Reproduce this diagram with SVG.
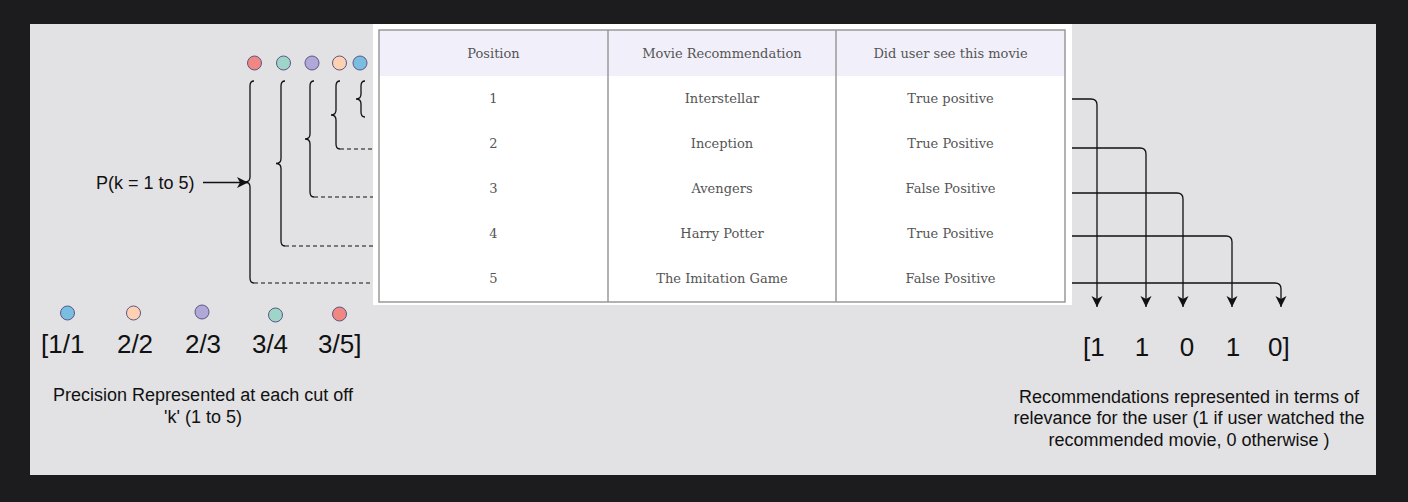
<svg xmlns="http://www.w3.org/2000/svg" width="1408" height="502" viewBox="0 0 1408 502">
<style>
.cap{font-family:"Liberation Sans",Arial,sans-serif;font-size:18px;fill:#111;}
.big{font-family:"Liberation Sans",Arial,sans-serif;font-size:26px;fill:#111;}
.tt{font-family:"DejaVu Serif","Liberation Serif",serif;font-size:13px;fill:#555;text-anchor:middle;}
.ln{fill:none;stroke:#111;stroke-width:1.3;}
.dash{fill:none;stroke:#111;stroke-width:1.2;stroke-dasharray:4 3;}
.dot{stroke:#5b5786;stroke-width:1;}
.grid{fill:none;stroke:#999;stroke-width:1.5;}
</style>
<defs>
<marker id="arr" viewBox="0 0 12 12" refX="11" refY="6" markerWidth="12" markerHeight="12" markerUnits="userSpaceOnUse" orient="auto">
<path d="M0,0.5 L11,6 L0,11.5 L3,6 z" fill="#111"/>
</marker>
</defs>
<rect x="0" y="0" width="1408" height="502" fill="#1c1c1e"/>
<rect x="30" y="24" width="1346" height="451" fill="#e2e2e4"/>

<g id="top-dots">
<circle class="dot" cx="254.5" cy="63" r="7" fill="#f08783"/>
<circle class="dot" cx="283.5" cy="63" r="7" fill="#9fd4c9"/>
<circle class="dot" cx="312" cy="63" r="7" fill="#b1a8d8"/>
<circle class="dot" cx="339.5" cy="63" r="7" fill="#fdd1b1"/>
<circle class="dot" cx="360" cy="63" r="7" fill="#79bde1"/>
</g>

<g id="braces">
<path class="ln" d="M254 81 Q250 81 250 86 V177 Q250 182 245 182 Q250 182 250 187 V278 Q250 283 254 283"/>
<path class="ln" d="M285 81 Q281 81 281 86 V158.5 Q281 163.5 276 163.5 Q281 163.5 281 168.5 V241 Q281 246 285 246"/>
<path class="ln" d="M314 81 Q310 81 310 86 V134 Q310 139 305 139 Q310 139 310 144 V192 Q310 197 314 197"/>
<path class="ln" d="M340 81 Q336 81 336 86 V110 Q336 115 331 115 Q336 115 336 120 V144 Q336 149 340 149"/>
<path class="ln" d="M365 81 Q361 81 361 86 V94 Q361 99 356 99 Q361 99 361 104 V112 Q361 117 365 117"/>
</g>

<g id="connectors">
<path class="dash" d="M254 283 H373"/>
<path class="dash" d="M285 246 H373"/>
<path class="dash" d="M314 197 H373"/>
<path class="dash" d="M340 149 H373"/>
<path class="ln" d="M203 182.5 H248" marker-end="url(#arr)"/>
<path class="ln" d="M1072 99 H1091 Q1097 99 1097 105 V307" marker-end="url(#arr)"/>
<path class="ln" d="M1072 148 H1140 Q1146 148 1146 154 V307" marker-end="url(#arr)"/>
<path class="ln" d="M1072 193 H1177 Q1183 193 1183 199 V307" marker-end="url(#arr)"/>
<path class="ln" d="M1072 236 H1226 Q1232 236 1232 242 V307" marker-end="url(#arr)"/>
<path class="ln" d="M1072 283 H1275 Q1281 283 1281 289 V307" marker-end="url(#arr)"/>
</g>

<g id="p-label">
<text class="cap" x="96" y="189">P(k = 1 to 5)</text>
</g>

<g id="table">
<rect x="373" y="24" width="699" height="281" fill="#ffffff"/>
<rect x="379" y="30" width="686" height="46" fill="#f1f0fa"/>
<rect class="grid" x="379" y="30" width="686" height="272"/>
<line class="grid" x1="608" y1="30" x2="608" y2="302"/>
<line class="grid" x1="836" y1="30" x2="836" y2="302"/>
<text class="tt" x="493.5" y="57.5">Position</text>
<text class="tt" x="722" y="57.5">Movie Recommendation</text>
<text class="tt" x="950.5" y="57.5">Did user see this movie</text>
<text class="tt" x="493.5" y="102.5">1</text>
<text class="tt" x="722" y="102.5">Interstellar</text>
<text class="tt" x="950.5" y="102.5">True positive</text>
<text class="tt" x="493.5" y="147.5">2</text>
<text class="tt" x="722" y="147.5">Inception</text>
<text class="tt" x="950.5" y="147.5">True Positive</text>
<text class="tt" x="493.5" y="192.5">3</text>
<text class="tt" x="722" y="192.5">Avengers</text>
<text class="tt" x="950.5" y="192.5">False Positive</text>
<text class="tt" x="493.5" y="237.5">4</text>
<text class="tt" x="722" y="237.5">Harry Potter</text>
<text class="tt" x="950.5" y="237.5">True Positive</text>
<text class="tt" x="493.5" y="282.5">5</text>
<text class="tt" x="722" y="282.5">The Imitation Game</text>
<text class="tt" x="950.5" y="282.5">False Positive</text>
</g>

<g id="bottom-dots">
<circle class="dot" cx="67.5" cy="313" r="7" fill="#79bde1"/>
<circle class="dot" cx="133.5" cy="313" r="7" fill="#fdd1b1"/>
<circle class="dot" cx="202" cy="312" r="7" fill="#b1a8d8"/>
<circle class="dot" cx="275.5" cy="315" r="7" fill="#9fd4c9"/>
<circle class="dot" cx="339.5" cy="314" r="7" fill="#f08783"/>
</g>

<g id="precision">
<text class="big"><tspan x="41" y="353">[1/1</tspan><tspan x="135" y="353" text-anchor="middle">2/2</tspan><tspan x="203" y="353" text-anchor="middle">2/3</tspan><tspan x="270" y="353" text-anchor="middle">3/4</tspan><tspan x="318" y="353">3/5]</tspan></text>
<text class="cap" text-anchor="middle"><tspan x="203" y="401">Precision Represented at each cut off</tspan><tspan x="203" y="423">'k' (1 to 5)</tspan></text>
</g>

<g id="relevance">
<text class="big"><tspan x="1083" y="356">[1</tspan><tspan x="1142" y="356" text-anchor="middle">1</tspan><tspan x="1187" y="356" text-anchor="middle">0</tspan><tspan x="1233" y="356" text-anchor="middle">1</tspan><tspan x="1268" y="356">0]</tspan></text>
<text class="cap" text-anchor="middle"><tspan x="1189" y="403">Recommendations represented in terms of</tspan><tspan x="1189" y="424">relevance for the user (1 if user watched the</tspan><tspan x="1189" y="446">recommended movie, 0 otherwise )</tspan></text>
</g>
</svg>
